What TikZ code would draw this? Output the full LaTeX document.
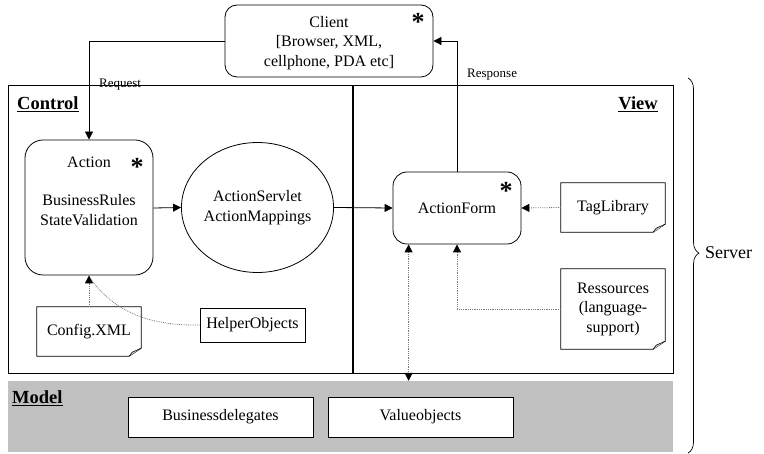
\documentclass[tikz,border=0pt]{standalone}
\usepackage{fontspec}
\setmainfont{Liberation Serif}
\usetikzlibrary{arrows.meta, shapes.geometric, decorations.pathreplacing, calc}
\definecolor{modelgray}{RGB}{192,192,192}
\definecolor{dotgray}{RGB}{120,120,120}
\newcommand{\notedraw}[1]{%
  \draw[line width=0.8pt] (#1.north west) -- (#1.north east) -- ($(#1.south east)+(0,-8)$) -- ($(#1.south east)+(-12,0)$) -- (#1.south west) -- cycle;
  \draw[line width=0.6pt, fill=modelgray!70] ($(#1.south east)+(0,-8)$) -- ($(#1.south east)+(-9,-4)$) -- ($(#1.south east)+(-12,0)$);
}
\begin{document}
\begin{tikzpicture}[x=1pt, y=-1pt,
  every node/.style={font=\fontsize{16}{19.5}\selectfont, align=center, inner sep=0pt},
  rbox/.style={draw, line width=0.8pt, rectangle},
  notebox/.style={rectangle},
  tip/.style={Triangle[length=8pt,width=8pt,black]},
  conn/.style={line width=0.8pt, -{Triangle[length=8pt,width=8pt]}},
  dotconn/.style={dotgray, densely dotted, line width=0.8pt, -{Triangle[length=8pt,width=8pt,black]}},
  lbl/.style={font=\fontsize{13}{16}\selectfont},
  hdr/.style={font=\fontsize{18.5}{22}\selectfont\bfseries},
  star/.style={font=\fontsize{26}{26}\selectfont\bfseries}
]
\useasboundingbox (0,0) rectangle (764,454);

% model band
\node[fill=modelgray, minimum width=665pt, minimum height=71pt] (model) at (340.5,416.5) {};
\node[hdr, anchor=west] (modellbl) at (12,398) {\underline{Model}};
\node[rbox, fill=white, minimum width=185pt, minimum height=40pt] (bd) at (220.5,417) {Businessdelegates};
\node[rbox, fill=white, minimum width=185pt, minimum height=40pt] (vo) at (420.5,417) {Valueobjects};

% outer server frame
\node[draw, line width=0.8pt, minimum width=665pt, minimum height=288pt] (frame) at (340.5,229) {};
\draw[line width=1.5pt] (353,85) coordinate (divtop) -- (353,373) coordinate (divbot);
\node[hdr, anchor=west] (ctrllbl) at (17,104) {\underline{Control}};
\node[hdr, anchor=east] (viewlbl) at (658,104) {\underline{View}};

% client
\node[rbox, rounded corners=12pt, minimum width=208pt, minimum height=72pt] (client) at (329,41) {};
\node (clienttxt) at (329,43) {Client\\{[}Browser, XML,\\cellphone, PDA etc{]}};
\node[star] (s1) at (418,22) {*};

% action
\node[rbox, rounded corners=18pt, minimum width=128pt, minimum height=135pt] (action) at (89,207.5) {};
\node (acttitle) at (89,162) {Action};
\node (acttxt) at (89,210) {BusinessRules\\StateValidation};
\node[star] (s2) at (137,167) {*};

% servlet
\node[draw, ellipse, line width=0.8pt, minimum width=145pt, minimum height=130pt] (servlet) at (257.5,207.5) {ActionServlet\\ActionMappings};

% actionform
\node[rbox, rounded corners=14pt, minimum width=128pt, minimum height=72pt] (form) at (457,208) {ActionForm};
\node[star] (s3) at (506,191) {*};

% notes
\node[notebox, minimum width=104pt, minimum height=49pt] (tag) at (613,207.5) {TagLibrary};
\notedraw{tag}
\node[notebox, minimum width=104pt, minimum height=80pt] (res) at (613,309) {Ressources\\(language-\\support)};
\notedraw{res}
\node[notebox, minimum width=104pt, minimum height=49pt] (config) at (89,331.5) {Config.XML};
\notedraw{config}
\node[rbox, minimum width=105pt, minimum height=34pt] (helper) at (252.5,325) {HelperObjects};

% connectors
\draw[conn] (client.west) -| (action.north);
\node[lbl, anchor=west] (req) at (99,85) {Request};
\draw[conn] (form.north) |- (client.east);
\node[lbl, anchor=west] (resp) at (467,75) {Response};
\draw[conn] (action.east |- 0,208) -- (servlet.west);
\draw[conn] (servlet.east) -- (form.west);
\draw[dotconn] (tag.west) -- (form.east);
\draw[dotconn] (res.west) -| (form.south);
\coordinate (fb) at ($(form.south west)+(16,0)$);
\draw[dotconn, {Triangle[length=8pt,width=8pt,black]}-{Triangle[length=8pt,width=8pt,black]}] (fb) -- (fb |- model.north);
\draw[dotconn] (config.north) -- (action.south);
\draw[dotconn, -] (helper.west) .. controls (150,326) and (115,312) .. ($(action.south)+(2,4)$);

% brace
\draw[line width=0.7pt, decorate, decoration={brace, amplitude=11pt, aspect=0.467}] (688,78) coordinate (btop) -- (688,453) coordinate (bbot);
\node[font=\fontsize{18}{22}\selectfont, anchor=west] (server) at (705,253) {Server};
\end{tikzpicture}
\end{document}
